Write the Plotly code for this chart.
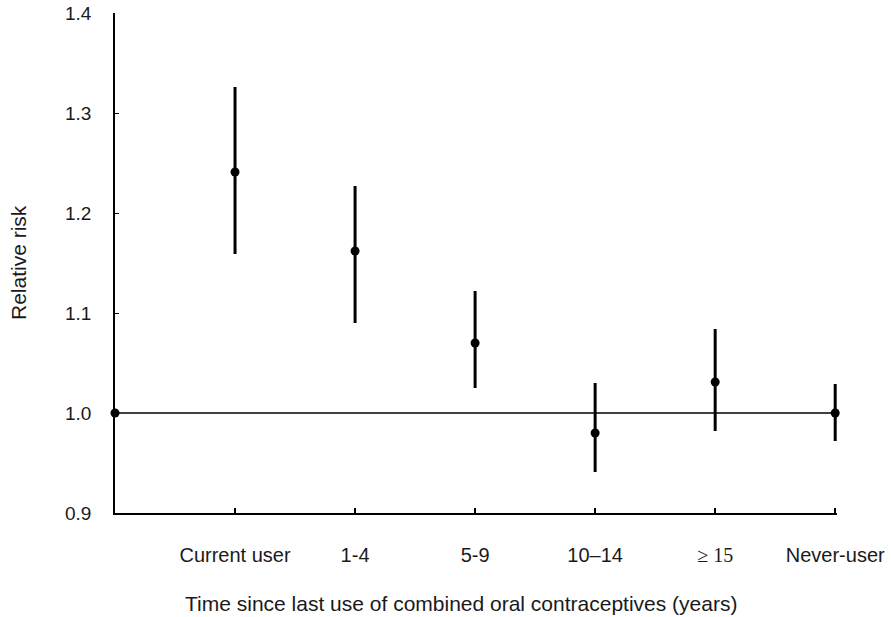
import plotly.graph_objects as go

categories = ["Current user", "1-4", "5-9", "10\u201314", "\u2265 15", "Never-user"]
cat_pos = [1, 2, 3, 4, 5, 6]
rr = [1.241, 1.162, 1.070, 0.980, 1.031, 1.000]
ci_low = [1.159, 1.090, 1.025, 0.941, 0.982, 0.972]
ci_high = [1.326, 1.227, 1.122, 1.030, 1.084, 1.029]
ref_value = 1.0
ref_pos = 0
y_ticks = [0.9, 1.0, 1.1, 1.2, 1.3, 1.4]
y_ticklabels = ["0.9", "1.0", "1.1", "1.2", "1.3", "1.4"]

tick_text = [c if not c.startswith("\u2265") else
             '<span style="font-family:Liberation Serif, Times New Roman, serif">' + c + '</span>'
             for c in categories]

fig = go.Figure()
# reference line at RR = 1.0
fig.add_trace(go.Scatter(
    x=[ref_pos, cat_pos[-1]], y=[ref_value, ref_value], mode="lines",
    line=dict(color="black", width=1.5), hoverinfo="skip", showlegend=False,
    cliponaxis=False))
# reference point at axis
fig.add_trace(go.Scatter(
    x=[ref_pos], y=[ref_value], mode="markers",
    marker=dict(color="black", size=9), showlegend=False, cliponaxis=False))
# estimates with CIs
fig.add_trace(go.Scatter(
    x=cat_pos, y=rr, mode="markers",
    marker=dict(color="black", size=9),
    error_y=dict(type="data", symmetric=False,
                 array=[h - v for h, v in zip(ci_high, rr)],
                 arrayminus=[v - l for v, l in zip(rr, ci_low)],
                 color="black", thickness=3, width=0),
    showlegend=False, cliponaxis=False))

font_family = "Liberation Sans, Arial, sans-serif"

fig.update_layout(
    template="none",
    width=891, height=617,
    margin=dict(l=115, r=54, t=13, b=104, autoexpand=False),
    paper_bgcolor="white", plot_bgcolor="white",
    font=dict(family=font_family, color="#1a1a1a"),
    xaxis=dict(range=[0, 6.015], tickvals=cat_pos, ticktext=tick_text,
               showgrid=False, zeroline=False, showline=True, automargin=False,
               linecolor="black", linewidth=1.5, ticks="inside",
               ticklen=5, tickwidth=1.5, tickcolor="black",
               tickfont=dict(size=20, family=font_family, color="#1a1a1a"),
               ticklabelstandoff=23, ticklabeloverflow="allow", fixedrange=True),
    yaxis=dict(range=[0.9, 1.4], tickvals=y_ticks, ticktext=y_ticklabels,
               showgrid=False, zeroline=False, showline=True, automargin=False,
               linecolor="black", linewidth=1.5, ticks="inside",
               ticklen=4, tickwidth=1, tickcolor="black",
               tickfont=dict(size=19, family=font_family, color="#1a1a1a"),
               ticklabelstandoff=18, ticklabeloverflow="allow", fixedrange=True),
    annotations=[
        dict(text="Time since last use of combined oral contraceptives (years)",
             xref="paper", yref="paper", x=0.479, y=0, yshift=-90,
             xanchor="center", yanchor="middle", showarrow=False,
             font=dict(size=21, family=font_family, color="#1a1a1a")),
        dict(text="Relative risk", xref="paper", yref="paper",
             x=0, xshift=-97, y=0.5, textangle=-90,
             xanchor="center", yanchor="middle", showarrow=False,
             font=dict(size=21, family=font_family, color="#1a1a1a")),
    ],
)

fig.write_html(
    "out.html",
    config={"displayModeBar": False},
    post_script="document.body.style.margin='0';document.body.style.overflow='hidden';",
)
